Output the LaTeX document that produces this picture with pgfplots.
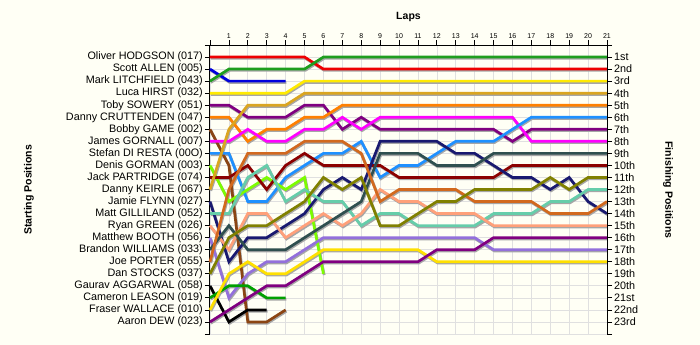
\documentclass[border=0pt]{standalone}
\usepackage{fontspec}
\setmainfont{Liberation Sans}
\usepackage{pgfplots}
\usepackage{pgfplotstable}
\pgfplotsset{compat=1.18}
\definecolor{bg}{HTML}{FFFFF5}
\definecolor{cred}{HTML}{EE0000}
\definecolor{cblue}{HTML}{0000DD}
\definecolor{cgreen}{HTML}{1E9E1E}
\definecolor{cyellow}{HTML}{FFEA00}
\definecolor{cpurple}{HTML}{800080}
\definecolor{corange}{HTML}{FF8000}
\definecolor{cbrown}{HTML}{8B4513}
\definecolor{cmagenta}{HTML}{FF00FF}
\definecolor{cdblue}{HTML}{1E90FF}
\definecolor{clime}{HTML}{7CFC00}
\definecolor{cmaroon}{HTML}{8B0000}
\definecolor{cgold}{HTML}{DAA520}
\definecolor{cnavy}{HTML}{191970}
\definecolor{caqua}{HTML}{66CDAA}
\definecolor{csalmon}{HTML}{FFA07A}
\definecolor{cmpurple}{HTML}{9370DB}
\definecolor{cdslate}{HTML}{2F4F4F}
\definecolor{cchoc}{HTML}{D2691E}
\definecolor{colive}{HTML}{808000}
\definecolor{cblack}{HTML}{000000}
\definecolor{cgtwo}{HTML}{00A000}
\definecolor{cytwo}{HTML}{FFE000}
\definecolor{cptwo}{HTML}{800080}

\pgfplotstableread{
lap red blue green yellow purple orange brown magenta dblue lime maroon gold navy aqua salmon mpurple dslate choc olive black gtwo ytwo ptwo
0 1 2 3 4 5 6 7 8 9 10 11 12 13 14 15 16 17 18 19 20 21 22 23
1 1 3 2 4 5 6 10 8 9 13 11 7 18 14 17 21 15 12 16 23 20 19 22
2 1 3 2 4 6 8 23 7 13 12 10 5 16 11 14 19 17 9 15 22 20 18 21
3 1 3 2 4 6 7 23 8 13 11 12 5 16 10 14 18 17 9 15 22 21 19 20
4 1 3 2 4 6 7 22 8 11 12 10 5 15 13 16 18 17 9 14 nan 21 19 20
5 1 nan 2 3 5 6 nan 7 10 11 9 4 14 12 15 17 16 8 13 nan nan 18 19
6 2 nan 1 3 5 6 nan 7 9 19 10 4 12 13 14 16 15 8 11 nan nan 17 18
7 2 nan 1 3 7 5 nan 6 9 nan 10 4 11 13 15 16 14 8 12 nan nan 17 18
8 2 nan 1 3 6 5 nan 7 8 nan 10 4 12 15 14 16 13 9 11 nan nan 17 18
9 2 nan 1 3 7 5 nan 6 11 nan 10 4 8 14 12 16 9 13 15 nan nan 17 18
10 2 nan 1 3 7 5 nan 6 10 nan 11 4 8 14 13 16 9 12 15 nan nan 17 18
11 2 nan 1 3 7 5 nan 6 10 nan 11 4 8 15 13 16 9 12 14 nan nan 17 18
12 2 nan 1 3 7 5 nan 6 9 nan 11 4 8 15 14 16 10 12 13 nan nan 18 17
13 2 nan 1 3 7 5 nan 6 8 nan 11 4 9 15 14 16 10 12 13 nan nan 18 17
14 2 nan 1 3 7 5 nan 6 8 nan 11 4 9 15 14 16 10 13 12 nan nan 18 17
15 2 nan 1 3 7 5 nan 6 8 nan 11 4 10 14 15 17 9 13 12 nan nan 18 16
16 2 nan 1 3 8 5 nan 6 7 nan 10 4 11 14 15 17 9 13 12 nan nan 18 16
17 2 nan 1 3 7 5 nan 8 6 nan 10 4 11 14 15 17 9 13 12 nan nan 18 16
18 2 nan 1 3 7 5 nan 8 6 nan 10 4 12 13 15 17 9 14 11 nan nan 18 16
19 2 nan 1 3 7 5 nan 8 6 nan 10 4 11 13 15 17 9 14 12 nan nan 18 16
20 2 nan 1 3 7 5 nan 8 6 nan 10 4 13 12 15 17 9 14 11 nan nan 18 16
21 2 nan 1 3 7 5 nan 8 6 nan 10 4 14 12 15 17 9 13 11 nan nan 18 16
}\data

\begin{document}
\begin{tikzpicture}
\path[use as bounding box] (-210bp,-11bp) rectangle (490bp,334bp);
\fill[bg] (-210bp,-11bp) rectangle (490bp,334bp);
\begin{axis}[
  at={(0,0)}, anchor=south west,
  scale only axis, width=397bp, height=289bp,
  xmin=0, xmax=21, ymin=0, ymax=24, y dir=reverse,
  axis x line*=top, axis y line*=left,
  axis line style={black, line width=1bp, -},
  xtick={0,...,21},
  xticklabels={,1,2,3,4,5,6,7,8,9,10,11,12,13,14,15,16,17,18,19,20,21},
  ytick={0,...,24},
  yticklabels={,Oliver HODGSON (017),Scott ALLEN (005),Mark LITCHFIELD (043),Luca HIRST (032),Toby SOWERY (051),Danny CRUTTENDEN (047),Bobby GAME (002),James GORNALL (007),Stefan DI RESTA (00O),Denis GORMAN (003),Jack PARTRIDGE (074),Danny KEIRLE (067),Jamie FLYNN (027),Matt GILLILAND (052),Ryan GREEN (026),Matthew BOOTH (056),Brandon WILLIAMS (033),Joe PORTER (055),Dan STOCKS (037),Gaurav AGGARWAL (058),Cameron LEASON (019),Fraser WALLACE (010),Aaron DEW (023),},
  /pgf/number format/assume math mode=true,
  xticklabel style={font=\fontsize{7bp}{8bp}\selectfont, inner sep=1.5bp},
  yticklabel style={font=\fontsize{10.8bp}{12bp}\selectfont, inner sep=2bp},
  tick align=outside, major tick length=5bp,
  tick style={black, line width=0.8bp},
  grid=major, grid style={black!12, line width=0.7bp},
  clip=false,
]
\pgfplotsinvokeforeach{red,blue,green,yellow,purple,orange,brown,magenta,dblue,lime,maroon,gold,navy,aqua,salmon,mpurple,dslate,choc,olive,black,gtwo,ytwo,ptwo}{
  \addplot[draw=black!35, line width=2.7bp, xshift=0.8bp, yshift=-1.3bp, line join=miter] table[x=lap,y=#1]{\data};
}
\pgfplotsinvokeforeach{red,blue,green,yellow,purple,orange,brown,magenta,dblue,lime,maroon,gold,navy,aqua,salmon,mpurple,dslate,choc,olive,black,gtwo,ytwo,ptwo}{
  \addplot[draw=c#1, line width=2.7bp, line join=miter] table[x=lap,y=#1]{\data};
}
\end{axis}
\begin{axis}[
  at={(0,0)}, anchor=south west,
  scale only axis, width=397bp, height=289bp,
  xmin=0, xmax=21, ymin=0, ymax=24, y dir=reverse,
  axis x line=none, axis y line*=right,
  axis line style={black, line width=1bp, -},
  ytick={0,...,24},
  yticklabels={,1st,2nd,3rd,4th,5th,6th,7th,8th,9th,10th,11th,12th,13th,14th,15th,16th,17th,18th,19th,20th,21st,22nd,23rd,},
  yticklabel style={font=\fontsize{10.8bp}{12bp}\selectfont, inner sep=2bp},
  tick align=outside, major tick length=5bp,
  tick style={black, line width=0.8bp},
]
\end{axis}
\node[font=\bfseries\fontsize{10.5bp}{12bp}\selectfont] at (198.5bp,317bp) {Laps};
\node[rotate=90, font=\bfseries\fontsize{10.5bp}{12bp}\selectfont] at (-181bp,144bp) {Starting Positions};
\node[rotate=-90, font=\bfseries\fontsize{10.5bp}{12bp}\selectfont] at (458bp,144bp) {Finishing Positions};
\end{tikzpicture}
\end{document}
